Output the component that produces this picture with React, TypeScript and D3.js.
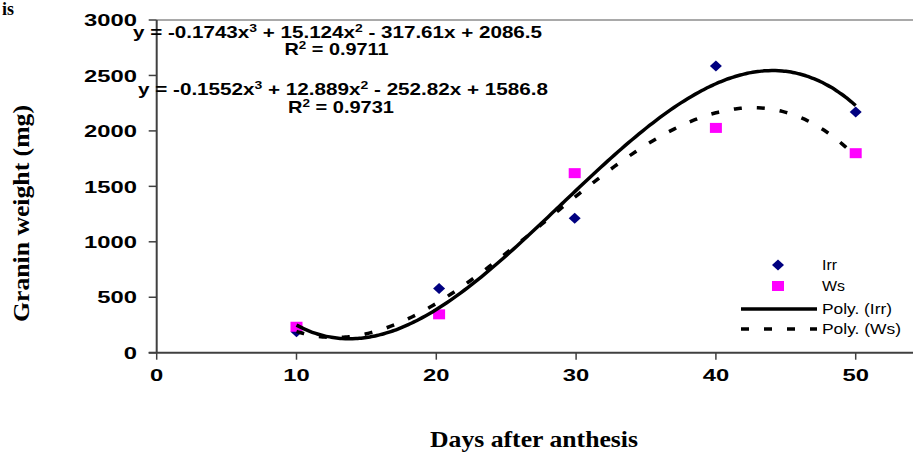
import React from 'react';
import * as d3 from 'd3';

const days = [10, 20.2, 29.9, 40, 50];
const irr = [190, 580, 1213, 2585, 2171];
const ws = [234, 346, 1619, 2027, 1799];
const irrCoef = [-0.1743, 15.124, -317.61, 2086.5];
const wsCoef = [-0.1552, 12.889, -252.82, 1586.8];
const xTicks = [0, 10, 20, 30, 40, 50];
const yTicks = [0, 500, 1000, 1500, 2000, 2500, 3000];
const legendLabels = ['Irr', 'Ws', 'Poly. (Irr)', 'Poly. (Ws)'];
const eqIrr = { a: '-0.1743', b: '15.124', c: '317.61', d: '2086.5', r2: '0.9711' };
const eqWs = { a: '-0.1552', b: '12.889', c: '252.82', d: '1586.8', r2: '0.9731' };

const W = 913;
const H = 455;
const x = d3.scaleLinear().domain([0, 50]).range([156.7, 855.7]);
const y = d3.scaleLinear().domain([0, 3000]).range([352.7, 20]);

const poly = (c: number[]) => (t: number) => c[0] * t * t * t + c[1] * t * t + c[2] * t + c[3];
const samples = d3.range(10, 50.0001, 0.25);
const line = d3
  .line<number[]>()
  .x((d) => x(d[0]))
  .y((d) => y(d[1]))
  .curve(d3.curveMonotoneX);

const SANS = 'Liberation Sans, Arial, sans-serif';
const SERIF = 'Liberation Serif, Times New Roman, serif';

function Eq({ e, x0, yb, len }: { e: typeof eqIrr; x0: number; yb: number; len: number }) {
  return (
    <text x={x0} y={yb} fontFamily={SANS} fontWeight="bold" fontSize={16.3} textLength={len} lengthAdjust="spacingAndGlyphs">
      {`y = ${e.a}x`}
      <tspan fontSize={11} dy={-6}>3</tspan>
      <tspan dy={6}>{` + ${e.b}x`}</tspan>
      <tspan fontSize={11} dy={-6}>2</tspan>
      <tspan dy={6}>{` - ${e.c}x + ${e.d}`}</tspan>
    </text>
  );
}

function R2({ e, cx, yb, len }: { e: typeof eqIrr; cx: number; yb: number; len: number }) {
  return (
    <text x={cx - len / 2} y={yb} fontFamily={SANS} fontWeight="bold" fontSize={16.3} textLength={len} lengthAdjust="spacingAndGlyphs">
      R<tspan fontSize={11} dy={-6}>2</tspan>
      <tspan dy={6}>{` = ${e.r2}`}</tspan>
    </text>
  );
}

export default function App() {
  const irrPath = line(samples.map((t) => [t, poly(irrCoef)(t)])) || '';
  const wsPath = line(samples.map((t) => [t, poly(wsCoef)(t)])) || '';
  const axisColor = '#404040';
  const legX = 778;
  const legTextX = 822;
  const legYs = [265, 286, 309, 329];
  const legLens = [15, 23, 70, 79];
  return (
    <svg width={W} height={H} style={{ position: 'absolute', left: 0, top: 0, background: '#fff' }}>
      <rect width={W} height={H} fill="#fff" />
      {/* top border of plot area */}
      <line x1={x(0)} x2={W} y1={y(3000)} y2={y(3000)} stroke="#8c8c8c" strokeWidth={1.5} />
      {/* y axis */}
      <line x1={x(0)} x2={x(0)} y1={y(3000)} y2={y(0)} stroke={axisColor} strokeWidth={2} />
      {yTicks.map((t) => (
        <g key={'yt' + t}>
          <line x1={x(0) - 8} x2={x(0)} y1={y(t)} y2={y(t)} stroke={axisColor} strokeWidth={1.5} />
          <text
            transform={`translate(137,${y(t) + 6.2}) scale(1.4,1)`}
            textAnchor="end"
            fontFamily={SANS}
            fontWeight="bold"
            fontSize={17}
          >
            {t}
          </text>
        </g>
      ))}
      {/* x axis */}
      <line x1={x(0) - 8} x2={W} y1={y(0)} y2={y(0)} stroke={axisColor} strokeWidth={2} />
      {xTicks.map((t) => (
        <g key={'xt' + t}>
          <line x1={x(t)} x2={x(t)} y1={y(0)} y2={y(0) + 7} stroke={axisColor} strokeWidth={1.5} />
          <text
            transform={`translate(${x(t)},380.5) scale(1.4,1)`}
            textAnchor="middle"
            fontFamily={SANS}
            fontWeight="bold"
            fontSize={17}
          >
            {t}
          </text>
        </g>
      ))}
      {/* markers */}
      {days.map((d, i) => {
        const cx = x(d);
        const cy = y(irr[i]);
        return <path key={'irr' + i} d={`M${cx - 6},${cy}L${cx},${cy - 5.5}L${cx + 6},${cy}L${cx},${cy + 5.5}Z`} fill="#000080" />;
      })}
      {days.map((d, i) => (
        <rect key={'ws' + i} x={x(d) - 6} y={y(ws[i]) - 5} width={12} height={10} fill="#ff00ff" />
      ))}
      {/* trendlines */}
      <path d={irrPath} fill="none" stroke="#000" strokeWidth={3.5} />
      <path d={wsPath} fill="none" stroke="#000" strokeWidth={3.5} strokeDasharray="8,15" />
      {/* equations */}
      <Eq e={eqIrr} x0={133} yb={37.7} len={409} />
      <R2 e={eqIrr} cx={336.5} yb={55} len={104} />
      <Eq e={eqWs} x0={138} yb={95} len={410} />
      <R2 e={eqWs} cx={341} yb={113.3} len={106} />
      {/* legend */}
      <path d={`M${legX - 6},${legYs[0]}L${legX},${legYs[0] - 5.5}L${legX + 6},${legYs[0]}L${legX},${legYs[0] + 5.5}Z`} fill="#000080" />
      <rect x={legX - 6} y={legYs[1] - 5} width={12} height={10} fill="#ff00ff" />
      <line x1={741} x2={817} y1={legYs[2]} y2={legYs[2]} stroke="#000" strokeWidth={3.5} />
      <line x1={741} x2={817} y1={legYs[3]} y2={legYs[3]} stroke="#000" strokeWidth={3.5} strokeDasharray="8,15" />
      {legendLabels.map((l, i) => (
        <text
          key={l}
          x={legTextX}
          y={legYs[i] + 5}
          fontFamily={SANS}
          fontSize={15}
          textLength={legLens[i]}
          lengthAdjust="spacingAndGlyphs"
        >
          {l}
        </text>
      ))}
      {/* axis titles */}
      <text x={430} y={446.7} fontFamily={SERIF} fontWeight="bold" fontSize={23.5} textLength={208} lengthAdjust="spacingAndGlyphs">
        Days after anthesis
      </text>
      <text
        transform={`translate(29,${213.5}) rotate(-90)`}
        textAnchor="middle"
        fontFamily={SERIF}
        fontWeight="bold"
        fontSize={24}
        textLength={217}
        lengthAdjust="spacingAndGlyphs"
      >
        Granin weight (mg)
      </text>
      <text x={2} y={15} fontFamily={SERIF} fontWeight="bold" fontSize={18}>
        is
      </text>
    </svg>
  );
}
